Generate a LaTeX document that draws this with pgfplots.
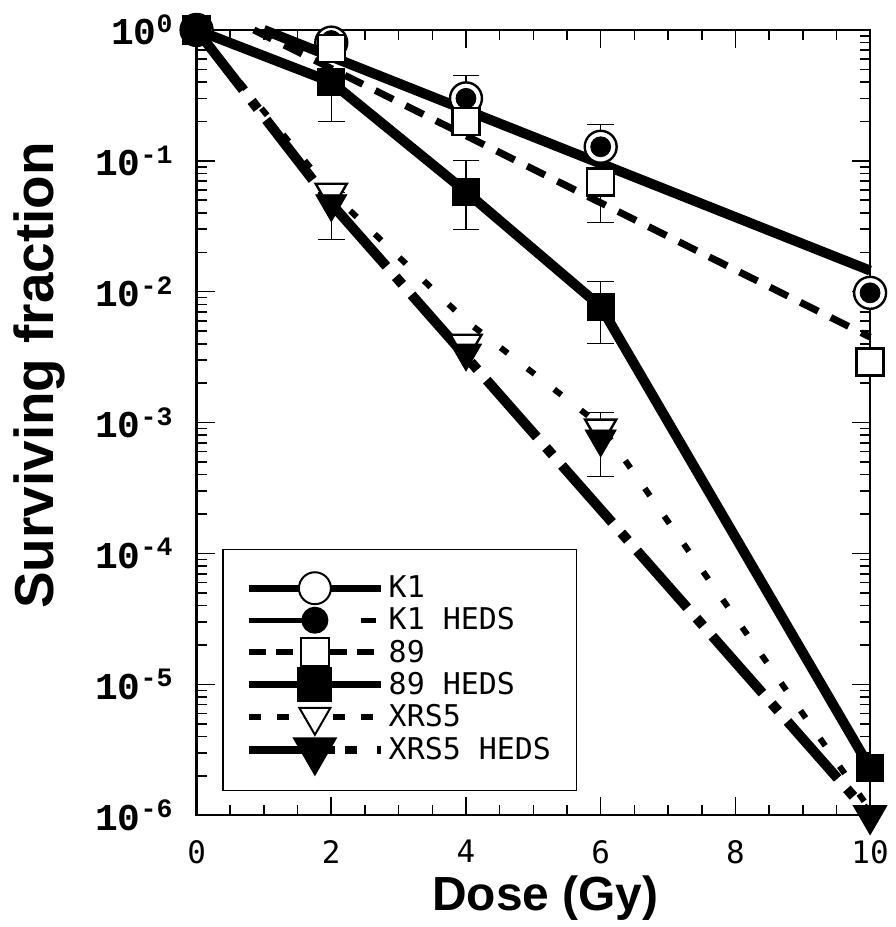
\documentclass[border=0pt]{standalone}
\usepackage{fontspec}
\setmainfont{Liberation Sans}
\setmonofont{DejaVu Sans Mono}
\newfontfamily\labfont{Liberation Mono}
\usepackage{pgfplots}
\pgfplotsset{compat=1.18}

\begin{document}
\begin{tikzpicture}
\begin{axis}[
  scale only axis, width=337.5pt, height=393.5pt,
  ymode=log, xmin=0, xmax=10, ymin=1e-6, ymax=1,
  clip=false,
  xtick={0,2,...,10}, minor x tick num=3,
  ytick={1,1e-1,1e-2,1e-3,1e-4,1e-5,1e-6},
  minor ytick={2e-1,3e-1,4e-1,5e-1,6e-1,7e-1,8e-1,9e-1,
    2e-2,3e-2,4e-2,5e-2,6e-2,7e-2,8e-2,9e-2,
    2e-3,3e-3,4e-3,5e-3,6e-3,7e-3,8e-3,9e-3,
    2e-4,3e-4,4e-4,5e-4,6e-4,7e-4,8e-4,9e-4,
    2e-5,3e-5,4e-5,5e-5,6e-5,7e-5,8e-5,9e-5,
    2e-6,3e-6,4e-6,5e-6,6e-6,7e-6,8e-6,9e-6},
  yticklabels={{10\textsuperscript{0}},{10\textsuperscript{-1}},{10\textsuperscript{-2}},
    {10\textsuperscript{-3}},{10\textsuperscript{-4}},{10\textsuperscript{-5}},{10\textsuperscript{-6}}},
  yticklabel style={font=\fontsize{19}{19}\labfont\bfseries, xshift=-8pt},
  xticklabel style={font=\fontsize{15.5}{16}\ttfamily, yshift=-9pt},
  xticklabel={\pgfmathprintnumber[assume math mode=true]{\tick}},
  tick align=inside, major tick length=9pt, minor tick length=5pt,
  every tick/.style={black, line width=0.8pt},
  axis line style={line width=1.2pt},
  xlabel={Dose (Gy)}, ylabel={Surviving fraction},
  xlabel style={font=\fontsize{24}{24}\bfseries, at={(rel axis cs:0.5,0)},
    anchor=center, yshift=-41.5pt, xshift=6pt},
  ylabel style={font=\fontsize{27.5}{27.5}\bfseries, at={(rel axis cs:0,0.56)},
    anchor=center, yshift=78.5pt},
  legend style={at={(rel axis cs:0.0385,0.031)}, anchor=south west,
    draw=black, line width=0.6pt, fill=white,
    font=\fontsize{15}{15}\ttfamily, row sep=-0.5pt,
    inner xsep=11pt, inner ysep=11pt, cells={anchor=west}},
  legend cell align=left,
  legend image code/.code={\draw[mark repeat=2,mark phase=2,#1]
    plot coordinates {(0pt,0pt) (33pt,0pt) (66pt,0pt)};},
]
% fitted / connecting lines
\addplot[black, line width=5pt, forget plot] coordinates {(1.0,1.0) (10,0.0145)};
\addplot[black, line width=3.5pt, dash pattern=on 10pt off 7pt, forget plot]
  coordinates {(0.85,1.0) (10,0.0045)};
\addplot[black, line width=5pt, line join=round, forget plot]
  coordinates {(0,1) (2,0.40) (4,0.058) (6,0.0077) (10,2.3e-6)};
\addplot[black, line width=3pt, dash pattern=on 4.5pt off 12.5pt, forget plot]
  coordinates {(0,1) (2,0.057) (4,0.006) (6,0.00095) (10,1.1e-6)};
\addplot[black, line width=5pt, dash pattern=on 38pt off 7pt on 5pt off 7pt, forget plot]
  coordinates {(0,1) (2,0.047) (10,1.0e-6)};

% error bars
\addplot[black, line width=0.6pt, mark=-, mark size=6.75pt, forget plot] coordinates {(2,0.2) (2,0.4)};
\addplot[black, line width=0.6pt, mark=-, mark size=6.75pt, forget plot] coordinates {(4,0.03) (4,0.1)};
\addplot[black, line width=0.6pt, mark=-, mark size=6.75pt, forget plot] coordinates {(6,0.004) (6,0.012)};
\addplot[black, line width=0.6pt, mark=-, mark size=6.75pt, forget plot] coordinates {(6,0.034) (6,0.19)};
\addplot[black, line width=0.6pt, mark=-, mark size=6.75pt, forget plot] coordinates {(4,0.30) (4,0.45)};
\addplot[black, line width=0.6pt, mark=-, mark size=6.75pt, forget plot] coordinates {(2,0.025) (2,0.057)};
\addplot[black, line width=0.6pt, mark=-, mark size=6.75pt, forget plot] coordinates {(6,0.00039) (6,0.0012)};

% markers
\addplot[only marks, mark=*, mark size=8pt, mark options={fill=white, draw=black, line width=1.2pt}, forget plot]
  coordinates {(0,1) (2,0.80) (4,0.30) (6,0.128) (10,0.0098)};
\addplot[only marks, mark=*, mark size=5pt, mark options={fill=black, draw=black}, forget plot]
  coordinates {(0,1) (2,0.83) (4,0.30) (6,0.128) (10,0.0098)};
\addplot[only marks, mark=square*, mark size=6.75pt, mark options={fill=white, draw=black, line width=1.2pt}, forget plot]
  coordinates {(0,1) (2,0.72) (4,0.20) (6,0.069) (10,0.0029)};
\addplot[only marks, mark=square*, mark size=6.75pt, mark options={fill=black, draw=black}, forget plot]
  coordinates {(0,1) (2,0.40) (4,0.058) (6,0.0077) (10,2.3e-6)};
\addplot[only marks, mark=triangle*, mark size=9pt, mark options={rotate=180, fill=white, draw=black, line width=1.2pt}, forget plot]
  coordinates {(2,0.057) (4,0.0040) (6,0.0009) (10,1.0e-6)};
\addplot[only marks, mark=triangle*, mark size=9pt, mark options={rotate=180, fill=black, draw=black}, forget plot]
  coordinates {(2,0.047) (4,0.0034) (6,0.00075) (10,1.0e-6)};

% legend
\addlegendimage{black, line width=3.5pt, mark=*, mark size=8pt,
  mark options={solid, fill=white, draw=black, line width=1pt}}
\addlegendentry{K1}
\addlegendimage{black, line width=2.5pt, dash pattern=on 31pt off 25pt on 7.5pt off 10pt,
  mark=*, mark size=5.5pt, mark options={solid, fill=black}}
\addlegendentry{K1 HEDS}
\addlegendimage{black, line width=3pt, dash pattern=on 8.5pt off 5pt,
  mark=square*, mark size=7pt, mark options={solid, fill=white, draw=black, line width=1pt}}
\addlegendentry{89}
\addlegendimage{black, line width=3.5pt, mark=square*, mark size=7pt,
  mark options={solid, fill=black}}
\addlegendentry{89 HEDS}
\addlegendimage{black, line width=3pt, dash pattern=on 6pt off 8pt,
  mark=triangle*, mark size=9pt, mark options={solid, rotate=180, fill=white, draw=black, line width=1pt}}
\addlegendentry{XRS5}
\addlegendimage{black, line width=4pt, dash pattern=on 34pt off 3pt on 6pt off 5pt on 6pt off 10pt,
  mark=triangle*, mark size=9pt, mark options={solid, rotate=180, fill=black}}
\addlegendentry{XRS5 HEDS}
\end{axis}
\path[use as bounding box] (-98.5pt,-55pt) rectangle (350pt,408.5pt);
\end{tikzpicture}
\end{document}
